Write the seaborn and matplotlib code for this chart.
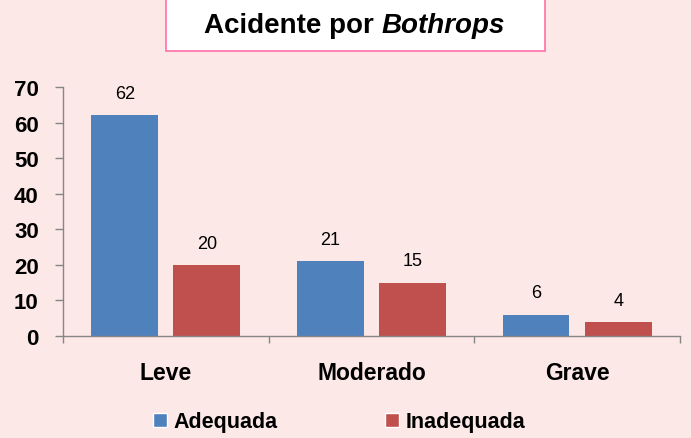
import matplotlib
matplotlib.use("Agg")
import matplotlib.pyplot as plt
from matplotlib.patches import Rectangle
import pandas as pd
import seaborn as sns

categorias = ["Leve", "Moderado", "Grave"]
adequada = [62, 21, 6]
inadequada = [20, 15, 4]
series = ["Adequada", "Inadequada"]
cores = ["#4f81bd", "#c0504d"]
yticks = [0, 10, 20, 30, 40, 50, 60, 70]

fundo = "#fde8e8"

df = pd.DataFrame({
    "categoria": categorias * 2,
    "valor": adequada + inadequada,
    "serie": [series[0]] * 3 + [series[1]] * 3,
})

sns.set_style("white")
plt.rcParams["font.family"] = ["Liberation Sans", "DejaVu Sans"]
plt.rcParams["text.color"] = "black"
plt.rcParams["xtick.color"] = "black"
plt.rcParams["ytick.color"] = "black"

fig = plt.figure(figsize=(6.91, 4.39), dpi=100, facecolor=fundo)
ax = fig.add_axes([0.0912, 0.2323, 0.8928, 0.5672])
ax.set_facecolor(fundo)

sns.barplot(data=df, x="categoria", y="valor", hue="serie", palette=cores,
            width=0.8, gap=0.186, saturation=1, linewidth=0, ax=ax, legend=False)

for cont in ax.containers:
    ax.bar_label(cont, padding=9.5, fontsize=13, color="black")

ax.set_ylim(0, 70)
ax.set_xlim(-0.5, 2.5)
ax.set_yticks(yticks)
ax.set_xlabel("")
ax.set_ylabel("")
for lab in ax.get_yticklabels():
    lab.set_fontweight("bold")
    lab.set_fontsize(16)
for lab in ax.get_xticklabels():
    lab.set_fontweight("bold")
    lab.set_fontsize(16.5)
ax.tick_params(axis="y", length=5.5, width=1, color="#868686", direction="out",
               pad=12, left=True, labelcolor="black")
ax.tick_params(axis="x", which="major", length=0, pad=18, labelcolor="black")
ax.set_xticks([-0.5, 0.5, 1.5, 2.5], minor=True)
ax.tick_params(axis="x", which="minor", length=5, width=1, color="#868686", direction="out", bottom=True)

sns.despine(ax=ax)
for s in ["left", "bottom"]:
    ax.spines[s].set_color("#868686")
    ax.spines[s].set_linewidth(1)

# caixa do titulo
fig.patches.append(Rectangle((166 / 691, 1 - 52 / 439), (545 - 166) / 691, 0.2,
                             transform=fig.transFigure, facecolor="white",
                             edgecolor="#ff6fa8", linewidth=1.2, zorder=0))
ytit = 1 - 33 / 439
t1 = fig.text(0.2, ytit, "Acidente por ", fontsize=20, fontweight="bold",
              ha="left", va="baseline")
fig.canvas.draw()
r = fig.canvas.get_renderer()
bb1 = t1.get_window_extent(r)
t2 = fig.text(0, ytit, "Bothrops", fontsize=20, fontweight="bold",
              style="italic", ha="left", va="baseline")
bb2 = t2.get_window_extent(r)
total = bb1.width + bb2.width
x0 = 354 - total / 2
t1.set_x(x0 / 691)
t2.set_x((x0 + bb1.width) / 691)

handles = [Rectangle((0, 0), 1, 1, facecolor=c) for c in cores]
leg = fig.legend(handles, series, loc="center", bbox_to_anchor=(339 / 691, 16 / 439),
                 ncol=2, frameon=False, handlelength=0.65, handleheight=0.65,
                 handletextpad=0.3, columnspacing=5.0,
                 prop={"weight": "bold", "size": 15.5})

fig.savefig("out.png", dpi=100, facecolor=fundo)
